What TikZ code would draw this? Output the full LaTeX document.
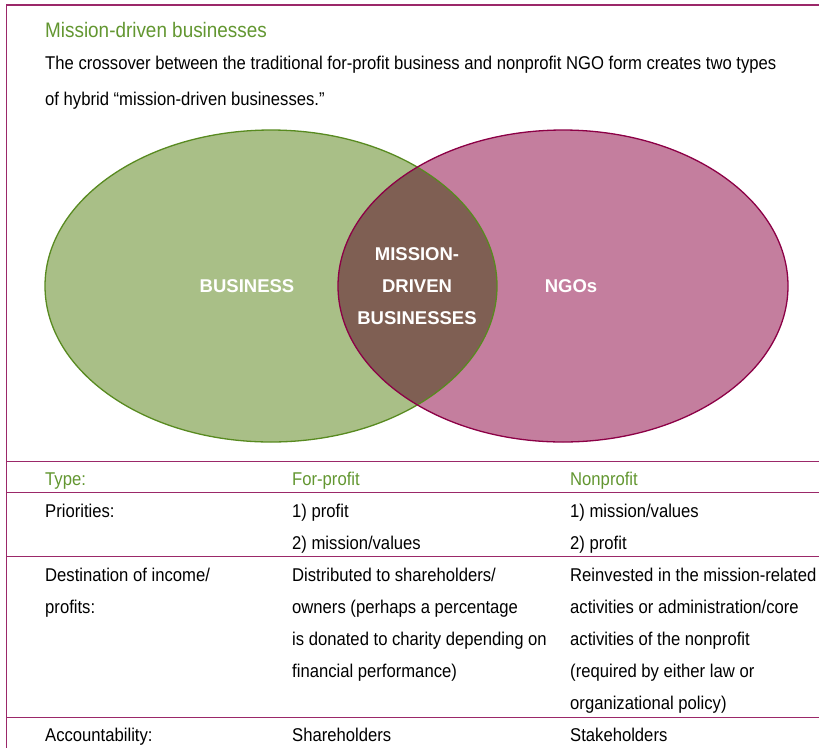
\documentclass[tikz,border=0pt]{standalone}
\usepackage{fontspec}
\setmainfont[FakeStretch=0.9]{Liberation Sans}
\newfontfamily\vennfont{Liberation Sans}
\usetikzlibrary{positioning}
\definecolor{framered}{RGB}{155,40,105}
\definecolor{titlegreen}{RGB}{98,150,48}
\definecolor{bizfill}{RGB}{169,191,135}
\definecolor{bizline}{RGB}{88,138,32}
\definecolor{ngofill}{RGB}{196,126,158}
\definecolor{ngoline}{RGB}{140,0,70}
\definecolor{overlapfill}{RGB}{127,95,83}
\begin{document}
\begin{tikzpicture}[x=1pt,y=-1pt]
% multi-line cells sit on the baseline of their last line
\tikzstyle{cell}=[anchor=base west,inner sep=0,align=left,font=\fontsize{18.5}{32}\selectfont]
\tikzstyle{head cell}=[cell,text=titlegreen]
\tikzset{
	venn label/.style={text=white,inner sep=0,align=center,font=\vennfont\bfseries\fontsize{18.5}{32}\selectfont},
	rule/.style={draw=framered,line width=1.4pt}
}
\useasboundingbox (0,0) rectangle (819,748);
% frame and table rules
\draw[rule] (819,5) -- (6.5,5) -- (6.5,748);
\foreach \y in {461.7,492.7,556.7,717.3}
	\draw[rule,line width=1.2pt] (6.5,\y) -- (819,\y);
% heading
\node[cell,text=titlegreen,font=\fontsize{21}{24}\selectfont] (title) at (45,37) {Mission-driven businesses};
\node[cell,font=\fontsize{18.5}{36}\selectfont] (intro) at (45,105) {The crossover between the traditional for-profit business and nonprofit NGO form creates two types\\of hybrid “mission-driven businesses.”};
% venn
\fill[bizfill] (271,286) ellipse [x radius=226,y radius=156];
\fill[ngofill] (563,286) ellipse [x radius=225,y radius=156];
\begin{scope}
	\clip (271,286) ellipse [x radius=226,y radius=156];
	\fill[overlapfill] (563,286) ellipse [x radius=225,y radius=156];
\end{scope}
\draw[bizline,line width=1.3pt] (271,286) ellipse [x radius=226,y radius=156];
\draw[ngoline,line width=1.3pt] (563,286) ellipse [x radius=225,y radius=156];
\node[venn label] (business) at (247,286) {BUSINESS};
\node[venn label] (ngos) at (571,286) {NGOs};
\node[venn label] (mission) at (417,286) {MISSION-\\DRIVEN\\BUSINESSES};
% table
\node[head cell] (type) at (45,485) {Type:};
\node[head cell] (forprofit) at (292,485) {For-profit};
\node[head cell] (nonprofit) at (570,485) {Nonprofit};
\node[cell] (priorities) at (45,517) {Priorities:};
\node[cell] (prioforprofit) at (292,549) {1) profit\\2) mission/values};
\node[cell] (prionnonprofit) at (570,549) {1) mission/values\\2) profit};
\node[cell] (destination) at (45,613) {Destination of income/\\profits:};
\node[cell] (destforprofit) at (292,677) {Distributed to shareholders/\\owners (perhaps a percentage\\is donated to charity depending on\\financial performance)};
\node[cell] (destnonprofit) at (570,709) {Reinvested in the mission-related\\activities or administration/core\\activities of the nonprofit\\(required by either law or\\organizational policy)};
\node[cell] (accountability) at (45,741) {Accountability:};
\node[cell] (accforprofit) at (292,741) {Shareholders};
\node[cell] (accnonprofit) at (570,741) {Stakeholders};
\end{tikzpicture}
\end{document}
